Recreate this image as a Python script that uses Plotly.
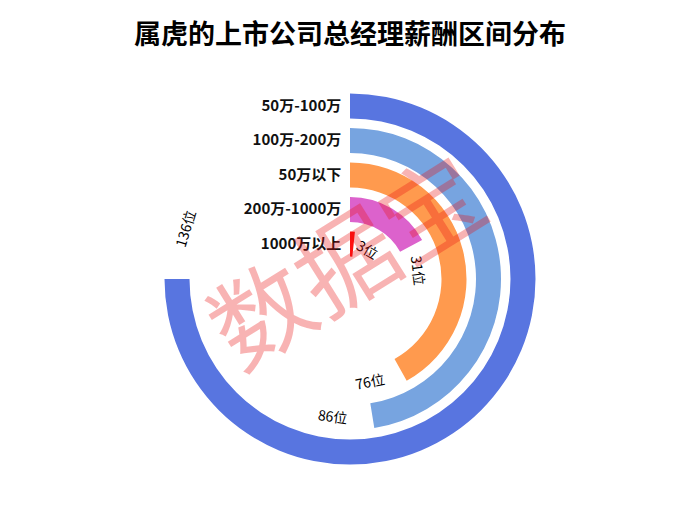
import math
import plotly.graph_objects as go

# ---- data ----
categories = ["1000万以上", "200万-1000万", "50万以下", "100万-200万", "50万-100万"]
values = [3, 31, 76, 86, 136]
value_labels = ["3位", "31位", "76位", "86位", "136位"]
colors = ["#ff1010", "#dc62cc", "#ff9a4e", "#77a4e0", "#5875e0"]
title_text = "属虎的上市公司总经理薪酬区间分布"
watermark_text = "数据宝"

# ---- layout geometry (pixels) ----
W, H = 700, 520
CX, CY = 350, 279
R_OUT = 190.25
HOLE_PX = 17.75
N = len(categories)
PITCH = (R_OUT - HOLE_PX) / N
BAR_FRAC = 0.725
ANG_MAX = max(values) / 0.75          # largest value spans 270 degrees
deg_per_unit = 360.0 / ANG_MAX
FS = 15

fig = go.Figure()
for i, (c, v, col) in enumerate(zip(categories, values, colors)):
    deg = v * deg_per_unit
    fig.add_trace(go.Barpolar(
        r=[BAR_FRAC], base=[i + (1 - BAR_FRAC) / 2], theta=[deg / 2], width=[deg],
        marker=dict(color=col, line=dict(width=0)), name=c, showlegend=False,
        hoverinfo="skip",
    ))

annotations = []
for i, (v, lab) in enumerate(zip(values, value_labels)):
    r_px = HOLE_PX + (i + 0.5) * PITCH
    end_deg = v * deg_per_unit
    digits = len(lab) - 1
    hw = (digits * 0.58 * FS + FS) / 2
    gap = 0.2 * r_px - 4
    th = end_deg + math.degrees((gap + hw) / r_px)
    x_px = CX + r_px * math.sin(math.radians(th))
    y_px = CY - r_px * math.cos(math.radians(th))
    if 90 < th < 270:
        ang = th - 180
    elif th >= 270:
        ang = th - 360
    else:
        ang = th
    annotations.append(dict(
        x=x_px / W, y=1 - y_px / H, xref="paper", yref="paper", text=lab,
        showarrow=False, textangle=ang, xanchor="center", yanchor="middle",
        font=dict(size=FS - 1, color="#000000", family="Noto Sans CJK SC"),
    ))

# watermark
annotations.append(dict(
    x=343 / W, y=1 - 256 / H, xref="paper", yref="paper", text=watermark_text,
    showarrow=False, textangle=-32, xanchor="center", yanchor="middle",
    font=dict(size=100, color="rgba(232,20,20,0.32)", family="Noto Sans CJK SC"),
))

fig.update_layout(
    width=W, height=H,
    margin=dict(l=0, r=0, t=0, b=0, autoexpand=False),
    paper_bgcolor="white", plot_bgcolor="white",
    title=dict(text=title_text, x=0.5, y=1 - 35 / H, xanchor="center", yanchor="middle",
               font=dict(size=27, color="#000000", family="Noto Sans CJK SC", weight="bold")),
    polar=dict(
        domain=dict(x=[(CX - R_OUT) / W, (CX + R_OUT) / W],
                    y=[1 - (CY + R_OUT) / H, 1 - (CY - R_OUT) / H]),
        hole=HOLE_PX / R_OUT,
        bgcolor="white",
        radialaxis=dict(range=[0, N], tickvals=[i + 0.5 for i in range(N)], ticktext=categories,
                        angle=90, side="counterclockwise", tickangle=90, showgrid=False,
                        showline=False, ticks="outside", ticklen=3, tickcolor="rgba(0,0,0,0)",
                        tickfont=dict(size=FS, color="#111111", family="Noto Sans CJK SC", weight="bold")),
        angularaxis=dict(visible=False, rotation=90, direction="clockwise", showgrid=False),
    ),
    bargap=0,
    annotations=annotations,
)

fig.write_html("out.html", config={"displayModeBar": False},
               post_script="document.body.style.margin='0';")
